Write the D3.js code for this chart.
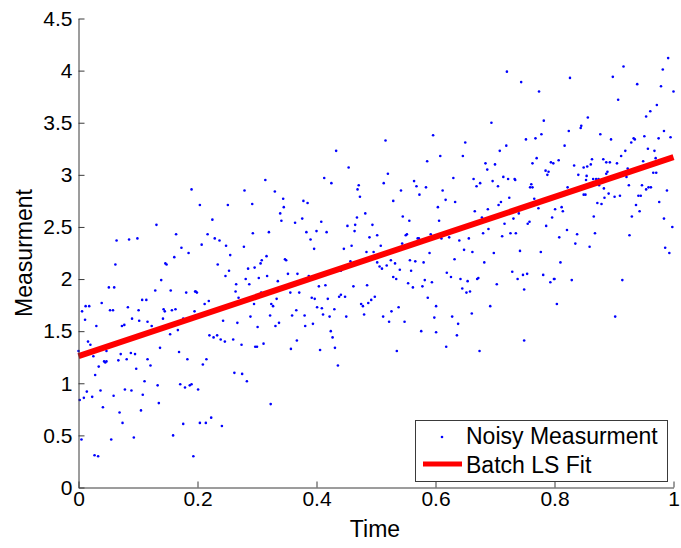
<!DOCTYPE html>
<html><head><meta charset="utf-8">
<script src="https://cdn.jsdelivr.net/npm/d3@7"></script>
<style>
html,body{margin:0;padding:0;background:#fff;}
svg{display:block;font-family:"Liberation Sans",Arial,sans-serif;}
</style></head>
<body><svg id="chart" width="681" height="548"></svg>
<script>
// Noisy measurements: [time, measurement]
const noisy = [
[.064,2.37],[.085,2.38],[.062,2.14],[.051,1.92],[.060,1.92],[.012,1.74],[.018,1.74],[.006,1.69],[.053,1.70],[.058,1.70],[.083,1.73],[.039,1.77],[.011,1.61],[.030,1.55],[.073,1.55],[.077,1.56],[.090,1.62],[.016,1.40],[.020,1.37],[.000,1.31],[.001,1.28],[.025,1.26],[.047,1.31],[.071,1.28],[.088,1.29],[.095,1.28],[.043,1.21],[.047,1.21],[.045,1.20],[.067,1.22],[.081,1.23],[.034,1.16],[.097,1.14],[.028,1.08],[.014,0.92],[.037,0.93],[.078,0.94],[.089,0.93],[.059,0.88],[.002,0.84],[.009,0.86],[.023,0.87],[.041,0.77],[.069,0.72],[.074,0.62],[.005,0.46],[.055,0.46],[.093,0.48],[.027,0.31],[.033,0.30],
[.190,2.86],[.131,2.52],[.099,2.39],[.164,2.43],[.173,2.30],[.185,2.25],[.161,2.21],[.146,2.15],[.148,2.14],[.139,1.99],[.129,1.89],[.155,1.89],[.181,1.87],[.196,1.88],[.107,1.80],[.114,1.80],[.101,1.70],[.143,1.71],[.145,1.69],[.157,1.70],[.163,1.71],[.102,1.60],[.116,1.59],[.123,1.55],[.142,1.62],[.176,1.62],[.195,1.69],[.151,1.55],[.154,1.47],[.167,1.51],[.137,1.34],[.169,1.30],[.116,1.23],[.183,1.23],[.121,1.17],[.111,1.02],[.133,0.98],[.171,0.99],[.179,0.96],[.187,0.98],[.190,0.99],[.108,0.89],[.135,0.81],[.105,0.74],[.176,0.61],[.159,0.50],[.193,0.30],
[.279,2.85],[.204,2.71],[.251,2.71],[.292,2.72],[.225,2.57],[.217,2.43],[.229,2.39],[.237,2.37],[.207,2.33],[.248,2.32],[.278,2.31],[.293,2.44],[.255,2.23],[.234,2.14],[.285,2.10],[.296,2.11],[.253,2.08],[.247,2.03],[.281,2.00],[.287,1.95],[.265,1.95],[.264,1.88],[.269,1.82],[.197,1.88],[.199,1.87],[.219,1.79],[.212,1.76],[.295,1.76],[.243,1.60],[.267,1.58],[.289,1.64],[.220,1.46],[.227,1.44],[.233,1.46],[.239,1.42],[.246,1.40],[.260,1.42],[.274,1.37],[.297,1.35],[.215,1.23],[.209,1.18],[.201,0.94],[.262,1.10],[.275,1.09],[.283,1.02],[.204,0.62],[.214,0.62],[.223,0.67],[.241,0.59],
[.314,2.95],[.330,2.84],[.344,2.77],[.345,2.69],[.339,2.63],[.341,2.56],[.364,2.54],[.376,2.58],[.378,2.75],[.385,2.73],[.383,2.45],[.390,2.38],[.396,2.29],[.320,2.45],[.316,2.22],[.308,2.18],[.306,2.15],[.347,2.19],[.349,2.18],[.303,2.01],[.317,2.03],[.352,2.05],[.368,2.05],[.387,2.03],[.335,1.98],[.356,1.87],[.371,1.87],[.307,1.87],[.333,1.81],[.324,1.76],[.327,1.74],[.322,1.65],[.359,1.65],[.366,1.70],[.380,1.65],[.337,1.58],[.331,1.55],[.381,1.55],[.394,1.57],[.392,1.82],[.397,1.81],[.301,1.54],[.300,1.35],[.311,1.38],[.357,1.33],[.367,1.41],[.323,0.80],
[.433,3.23],[.454,3.07],[.413,2.97],[.425,2.92],[.471,2.90],[.469,2.86],[.473,2.79],[.482,2.63],[.468,2.59],[.408,2.55],[.400,2.46],[.417,2.45],[.452,2.51],[.465,2.52],[.464,2.46],[.494,2.52],[.489,2.40],[.446,2.29],[.459,2.32],[.484,2.26],[.496,2.26],[.457,2.17],[.441,2.08],[.404,1.93],[.415,1.94],[.462,1.93],[.485,1.94],[.419,1.81],[.438,1.83],[.441,1.85],[.448,1.83],[.492,1.80],[.487,1.77],[.475,1.76],[.478,1.74],[.480,1.66],[.401,1.73],[.409,1.72],[.430,1.71],[.411,1.66],[.422,1.64],[.450,1.64],[.424,1.50],[.427,1.44],[.431,1.34],[.406,1.32],[.436,1.17],
[.516,3.33],[.596,3.38],[.586,3.13],[.520,3.01],[.513,2.92],[.564,2.94],[.568,2.89],[.584,2.88],[.573,2.81],[.542,2.85],[.529,2.75],[.545,2.60],[.556,2.56],[.502,2.42],[.508,2.32],[.550,2.42],[.552,2.43],[.544,2.34],[.570,2.39],[.572,2.39],[.592,2.43],[.502,2.16],[.506,2.12],[.510,2.10],[.518,2.13],[.525,2.18],[.532,2.15],[.557,2.18],[.566,2.17],[.580,2.16],[.590,2.25],[.540,2.09],[.559,2.08],[.529,2.02],[.534,2.00],[.554,1.96],[.562,1.92],[.578,1.93],[.582,1.99],[.594,1.97],[.498,1.83],[.587,1.82],[.538,1.73],[.512,1.64],[.526,1.69],[.522,1.59],[.548,1.59],[.598,1.63],[.576,1.50],[.535,1.31],
[.694,3.50],[.650,3.31],[.608,3.18],[.646,3.18],[.684,3.11],[.687,3.05],[.700,3.10],[.630,2.97],[.664,2.96],[.669,2.89],[.675,2.92],[.696,2.94],[.612,2.85],[.617,2.76],[.633,2.74],[.604,2.69],[.606,2.56],[.666,2.65],[.688,2.67],[.678,2.59],[.610,2.39],[.623,2.40],[.640,2.37],[.656,2.39],[.680,2.44],[.689,2.48],[.648,2.28],[.662,2.26],[.632,2.19],[.698,2.25],[.682,2.16],[.619,2.06],[.626,2.02],[.642,2.00],[.654,1.98],[.670,2.00],[.672,2.01],[.645,1.91],[.652,1.87],[.658,1.88],[.601,1.74],[.692,1.74],[.628,1.64],[.661,1.67],[.638,1.57],[.601,1.49],[.636,1.46],[.618,1.35],[.674,1.31],
[.720,3.99],[.744,3.89],[.774,3.80],[.782,3.52],[.752,3.34],[.768,3.35],[.778,3.39],[.719,3.28],[.708,3.23],[.770,3.16],[.763,3.11],[.794,3.12],[.798,3.11],[.785,3.04],[.790,3.03],[.788,3.00],[.714,2.98],[.722,2.96],[.733,2.96],[.734,2.95],[.705,2.89],[.761,2.91],[.763,2.88],[.759,2.88],[.710,2.74],[.706,2.71],[.724,2.78],[.766,2.77],[.773,2.68],[.731,2.58],[.740,2.63],[.758,2.55],[.755,2.53],[.796,2.59],[.786,2.51],[.716,2.53],[.712,2.41],[.726,2.44],[.735,2.44],[.742,2.27],[.777,2.26],[.729,2.07],[.738,2.00],[.747,2.04],[.754,2.05],[.749,1.90],[.781,2.04],[.793,1.97],[.799,2.00],[.703,1.95],[.749,1.41],
[.826,3.93],[.898,3.94],[.856,3.55],[.844,3.45],[.845,3.47],[.824,3.42],[.877,3.39],[.817,3.28],[.895,3.34],[.807,3.14],[.863,3.15],[.861,3.10],[.833,3.09],[.849,3.07],[.855,3.08],[.882,3.15],[.887,3.12],[.893,3.12],[.889,3.03],[.887,3.01],[.840,3.00],[.854,2.99],[.853,2.95],[.865,2.96],[.870,2.96],[.874,2.96],[.875,2.90],[.883,2.87],[.849,2.81],[.852,2.81],[.822,2.88],[.872,2.73],[.879,2.72],[.884,2.78],[.891,2.82],[.901,2.79],[.801,2.67],[.812,2.69],[.814,2.65],[.866,2.60],[.821,2.47],[.838,2.43],[.808,2.40],[.835,2.34],[.859,2.31],[.868,2.44],[.810,2.16],[.800,2.00],[.829,1.99],[.804,1.76],
[.991,4.12],[.916,4.04],[.982,4.01],[.939,3.87],[.979,3.85],[1.000,3.80],[.907,3.72],[.972,3.67],[.961,3.61],[.954,3.56],[.984,3.42],[.951,3.37],[.975,3.35],[.995,3.36],[.933,3.35],[.935,3.34],[.929,3.31],[.919,3.23],[.912,3.18],[.957,3.25],[.968,3.23],[.970,3.16],[.905,3.11],[.949,3.13],[.923,3.06],[.921,2.98],[.966,3.02],[.971,3.02],[.925,2.90],[.947,2.90],[.954,2.86],[.958,2.88],[.962,2.88],[.989,2.85],[.910,2.80],[.941,2.80],[.945,2.80],[.937,2.71],[.976,2.74],[.943,2.65],[.930,2.60],[.984,2.58],[.998,2.50],[.926,2.42],[.986,2.30],[.993,2.25],[.914,1.99],[.902,1.64]
];
const fitTime = [0, 1];
const fitValue = [1.26, 3.17];
const xTicks = [0, 0.2, 0.4, 0.6, 0.8, 1];
const yTicks = [0, 0.5, 1, 1.5, 2, 2.5, 3, 3.5, 4, 4.5];
const legendLabels = ["Noisy Measurment", "Batch LS Fit"];

const svg = d3.select("#chart");
const x = d3.scaleLinear().domain([0, 1]).range([78.5, 673.5]);
const y = d3.scaleLinear().domain([0, 4.5]).range([487.5, 18.5]);
const TICK_FS = 21, LABEL_FS = 23;

// points
svg.append("g").selectAll("circle").data(noisy).join("circle")
  .attr("cx", d => x(d[0])).attr("cy", d => y(d[1]))
  .attr("r", 1.3).attr("fill", "#0000ff");

// fit line
const fitData = fitTime.map((t, i) => [t, fitValue[i]]);
svg.append("path").datum(fitData)
  .attr("d", d3.line().x(d => x(d[0])).y(d => y(d[1])))
  .attr("stroke", "#ff0000").attr("stroke-width", 6).attr("fill", "none");

// axes
const fmt = d => String(d);
const xAxis = d3.axisBottom(x).tickValues(xTicks).tickFormat(fmt).tickSizeInner(-6).tickSizeOuter(0).tickPadding(4);
const yAxis = d3.axisLeft(y).tickValues(yTicks).tickFormat(fmt).tickSizeInner(-6).tickSizeOuter(0).tickPadding(6);
const gx = svg.append("g").attr("transform", "translate(0,487.5)").call(xAxis);
const gy = svg.append("g").attr("transform", "translate(78.5,0)").call(yAxis);
[gx, gy].forEach(g => {
  g.select(".domain").attr("stroke", "#3a3a3a");
  g.selectAll(".tick line").attr("stroke", "#3a3a3a");
  g.selectAll(".tick text").attr("fill", "#000").style("font-size", TICK_FS + "px").style("font-family", '"Liberation Sans", Arial, sans-serif');
});

// axis labels
svg.append("text").attr("x", 375).attr("y", 537).attr("text-anchor", "middle")
  .style("font-size", LABEL_FS + "px").text("Time");
svg.append("text").attr("transform", "translate(32,253) rotate(-90)").attr("text-anchor", "middle")
  .style("font-size", LABEL_FS + "px").text("Measurment");

// legend
const lg = svg.append("g");
lg.append("rect").attr("x", 415.5).attr("y", 420.5).attr("width", 252).attr("height", 61)
  .attr("fill", "#fff").attr("stroke", "#3a3a3a");
lg.append("circle").attr("cx", 442).attr("cy", 437).attr("r", 1.3).attr("fill", "#0000ff");
lg.append("line").attr("x1", 423).attr("x2", 462).attr("y1", 464).attr("y2", 464)
  .attr("stroke", "#ff0000").attr("stroke-width", 5);
lg.append("text").attr("x", 466).attr("y", 444).style("font-size", LABEL_FS + "px").text(legendLabels[0]);
lg.append("text").attr("x", 466).attr("y", 473).style("font-size", LABEL_FS + "px").text(legendLabels[1]);
</script></body></html>
